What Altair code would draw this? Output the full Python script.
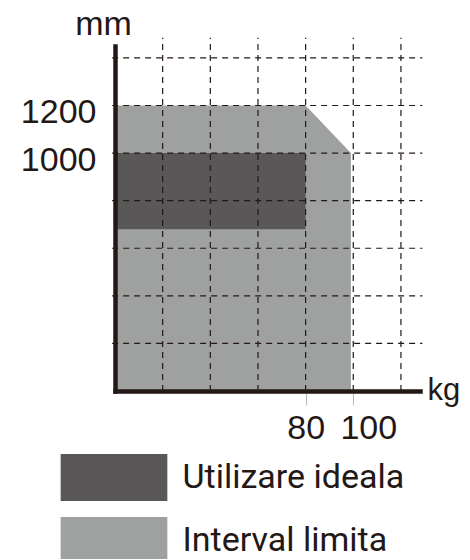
import altair as alt
import pandas as pd

# ---- data ----
zones = ["Utilizare ideala", "Interval limita"]
zone_colors = ["#595758", "#9fa1a1"]

limit_kg = [0, 80, 99]
limit_mm = [1200, 1200, 1000]

ideal_kg_start = [0]
ideal_kg_end = [80]
ideal_mm_low = [680]
ideal_mm_high = [1000]

grid_kg = [20, 40, 60, 80, 100, 120]
grid_mm = [200, 400, 600, 800, 1000, 1200, 1400]

x_label_values = [80, 100]
y_label_values = [1000, 1200]

INK = "#231815"
NUM_FONT = "Liberation Sans"
TXT_FONT = "Roboto"

limit_df = pd.DataFrame({"kg": limit_kg, "mm": limit_mm, "zone": zones[1]})
ideal_df = pd.DataFrame({"kg": ideal_kg_start, "kg2": ideal_kg_end,
                         "mm": ideal_mm_low, "mm2": ideal_mm_high, "zone": zones[0]})
vgrid_df = pd.DataFrame({"kg": grid_kg})
hgrid_df = pd.DataFrame({"mm": grid_mm})

fill_scale = alt.Scale(domain=zones, range=zone_colors)

x_scale = alt.Scale(domain=[0, 128], nice=False, zero=False)
y_scale = alt.Scale(domain=[0, 1450], nice=False, zero=False)

x_axis = alt.Axis(
    values=x_label_values, grid=False, title="kg", format="d",
    titleAngle=0, titleAlign="left", titleBaseline="alphabetic",
    titleX=312, titleY=8.5, titleFont=NUM_FONT, titleFontSize=31,
    titleFontWeight="normal", titleColor=INK,
    labelFont=NUM_FONT, labelFontSize=34, labelColor=INK,
    labelPadding=6, labelFlush=False, labelOverlap=False,
    labelOffset={"condition": {"test": "datum.value == 100", "value": 15}, "value": 0},
    tickSize=14, tickColor="#b8b8b8", tickWidth=1,
    domainColor=INK, domainWidth=4.5, domainCap="square", zindex=1,
)
y_axis = alt.Axis(
    values=y_label_values, grid=False, title="mm", format="d",
    titleAngle=0, titleAlign="center", titleBaseline="alphabetic",
    titleX=-12, titleY=-12, titleFont=NUM_FONT, titleFontSize=34,
    titleFontWeight="normal", titleColor=INK,
    labelFont=NUM_FONT, labelFontSize=34, labelColor=INK,
    labelPadding=19, labelOffset=7, labelFlush=False, labelOverlap=False,
    ticks=False,
    domainColor=INK, domainWidth=4.5, domainCap="square", zindex=1,
)

legend = alt.Legend(
    title=None, orient="none", legendX=-54, legendY=408, padding=0,
    symbolType="M-2.27,-1H2.27V1H-2.27Z", symbolSize=2209,
    symbolStrokeWidth=0, symbolOffset=29.5, symbolOpacity=1,
    labelFont=TXT_FONT, labelFontSize=34, labelColor=INK, labelOffset=45,
    rowPadding=16, labelLimit=400,
)

X = lambda f: alt.X(f, scale=x_scale, axis=x_axis)
Y = lambda f: alt.Y(f, scale=y_scale, axis=y_axis)

limit_layer = alt.Chart(limit_df).mark_area(opacity=1, interpolate="linear").encode(
    x=X("kg:Q"),
    y=Y("mm:Q"),
    y2=alt.datum(0),
    fill=alt.Fill("zone:N", scale=fill_scale, legend=legend),
)

ideal_layer = alt.Chart(ideal_df).mark_rect(opacity=1).encode(
    x=X("kg:Q"),
    x2="kg2:Q",
    y=Y("mm:Q"),
    y2="mm2:Q",
    fill=alt.Fill("zone:N", scale=fill_scale, legend=legend),
)

dash = [6, 5]
vgrid = alt.Chart(vgrid_df).mark_rule(color=INK, strokeWidth=1.2, strokeDash=dash).encode(
    x=X("kg:Q"),
    y=alt.YDatum(0, axis=y_axis, scale=y_scale),
    y2=alt.datum(1485),
)
hgrid = alt.Chart(hgrid_df).mark_rule(color=INK, strokeWidth=1.2, strokeDash=dash).encode(
    y=Y("mm:Q"),
    x=alt.XDatum(-1.2, axis=x_axis, scale=x_scale),
    x2=alt.datum(129),
)

chart = alt.layer(limit_layer, ideal_layer, vgrid, hgrid).properties(
    width=305, height=345,
    autosize=alt.AutoSizeParams(type="none"),
    padding={"left": 107, "top": 38, "right": 42, "bottom": 168},
).configure(background="white").configure_view(stroke=None)

chart.save("out.html", embed_options={"renderer": "svg", "actions": False})
